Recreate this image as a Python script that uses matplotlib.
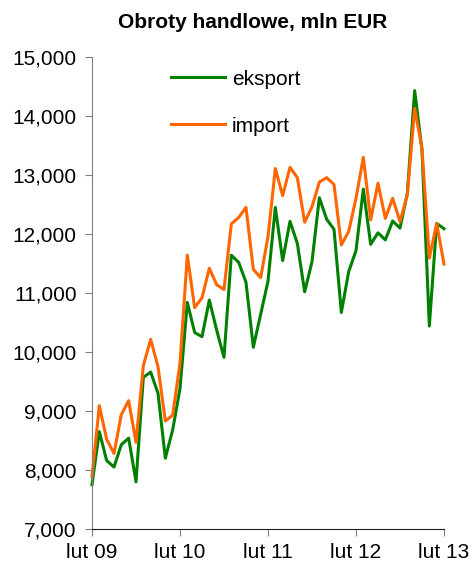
import matplotlib.pyplot as plt
import numpy as np

# -----------------------
# Data (monthly, lut 09 - lut 13), mln EUR
# -----------------------
eksport = [
    7750, 8650, 8160, 8050, 8430, 8540, 7800, 9570, 9660, 9300, 8200, 8680,
    9380, 10840, 10330, 10260, 10880, 10370, 9910, 11640, 11520, 11180, 10080, 10640,
    11200, 12450, 11550, 12215, 11840, 11020, 11530, 12615, 12250, 12080, 10670, 11360,
    11720, 12760, 11825, 12020, 11900, 12220, 12100, 12690, 14430, 13420, 10440, 12180,
    12090,
]
import_ = [
    7890, 9090, 8520, 8280, 8940, 9175, 8470, 9770, 10215, 9750, 8830, 8930,
    9810, 11640, 10750, 10920, 11420, 11140, 11060, 12170, 12280, 12450, 11400, 11260,
    11955, 13110, 12650, 13130, 12955, 12200, 12460, 12880, 12955, 12840, 11815, 12040,
    12605, 13300, 12240, 12860, 12265, 12605, 12210, 12660, 14130, 13450, 11590, 12180,
    11490,
]
tick_labels = ["lut 09", "lut 10", "lut 11", "lut 12", "lut 13"]

FONT = "Liberation Sans"
plt.rcParams["font.family"] = [FONT, "DejaVu Sans"]

months = np.arange(len(eksport))

# -----------------------
# Plot
# -----------------------
fig = plt.figure(figsize=(4.73, 5.63), dpi=100)
ax = fig.add_axes([92 / 473, 34 / 563, 352 / 473, 472 / 563])

ax.plot(months, eksport, color="#008000", linewidth=2.2, label="eksport",
        clip_on=False)
ax.plot(months, import_, color="#FF6600", linewidth=2.2, label="import",
        clip_on=False)

ax.set_xlim(0, 48)
ax.set_ylim(7000, 15000)
ax.set_yticks(np.arange(7000, 15001, 1000))
ax.yaxis.set_major_formatter(plt.FuncFormatter(lambda v, p: f"{int(v):,}"))
ax.set_xticks(np.arange(0, 49, 12))
ax.set_xticklabels(tick_labels)

for s in ["top", "right"]:
    ax.spines[s].set_visible(False)
ax.spines["left"].set_color("#808080")
ax.spines["bottom"].set_color("#202020")
ax.tick_params(axis="y", direction="out", length=5, colors="#808080",
               labelcolor="black", labelsize=15, pad=6)
ax.tick_params(axis="x", direction="out", length=5, colors="#808080",
               labelcolor="black", labelsize=15, pad=5)

ax.legend(loc="upper left", bbox_to_anchor=(0.17, 1.013), frameon=False,
          fontsize=15, handlelength=2.6, handletextpad=0.35,
          labelspacing=1.35)

fig.text(253 / 473, 1 - 22 / 563, "Obroty handlowe, mln EUR", ha="center",
         va="center", fontsize=15, fontweight="bold")

plt.savefig("out.png", dpi=100)
